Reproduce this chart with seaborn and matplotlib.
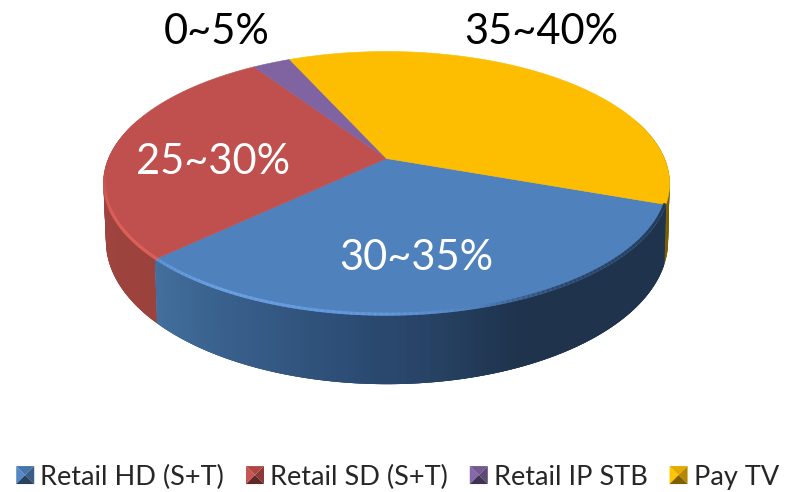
import matplotlib
matplotlib.use("Agg")
import matplotlib.pyplot as plt
from matplotlib.colors import to_rgb
from matplotlib.legend_handler import HandlerBase
from matplotlib.patches import Patch, Polygon
import numpy as np
import seaborn as sns

# the data
categories = ["Retail HD (S+T)", "Retail SD (S+T)", "Retail IP STB", "Pay TV"]
shares = [32.4, 27.8, 2.6, 37.2]
range_labels = ["30~35%", "25~30%", "0~5%", "35~40%"]
colors = ["#4f81bd", "#c0504d", "#8064a2", "#fdbd00"]

sns.set_theme(style="white")
plt.rcParams["font.family"] = ["Lato", "DejaVu Sans"]

START = -19.8  # first slice starts here and goes clockwise


def project(theta, level=0):
    # perspective view of the disc, level 0 is the top face, 1 the bottom face
    u, v = np.cos(theta), np.sin(theta)
    r, a, cy, cx = (278, 127.2, 158.5, 386.5) if level == 0 else (276, 138, 214, 387)
    f = 1 + 0.189 * v
    return cx + r * u / f, cy - a * v / f


def side_color(i, deg):
    # the side gets darker towards the right
    d = deg % 360
    if i == 0:
        return np.interp(d, [223, 265, 292, 340], [0, 1, 2, 2]), ["#44709f", "#2c4d75", "#1f334d"]
    if i == 1:
        return np.interp(d, [122, 225], [0, 1]), ["#a5473f", "#9c423d"]
    if i == 2:
        return 0, ["#5c4776"]
    return 0, ["#7a6000"]


def mix(stops, t):
    rgb = [to_rgb(c) for c in stops]
    lo = int(min(np.floor(t), len(rgb) - 1))
    hi = min(lo + 1, len(rgb) - 1)
    return tuple(np.array(rgb[lo]) * (1 - (t - lo)) + np.array(rgb[hi]) * (t - lo))


fig, ax = plt.subplots(figsize=(7.96, 4.92), dpi=100)
fig.subplots_adjust(0, 0, 1, 1)
ax.set_xlim(0, 796)
ax.set_ylim(492, 0)
ax.axis("off")

spans = np.array(shares) / sum(shares) * 360
ends = START - np.cumsum(spans)
starts = ends + spans

# side wall, far pieces first, each piece overlaps the next so no seams show
pieces = []
for i, (s, e) in enumerate(zip(starts, ends)):
    edges = np.linspace(e, s, int(s - e) + 2)
    for d0, d1 in zip(edges[:-1], edges[1:]):
        pieces.append((i, d0, d1, e, s))
pieces.sort(key=lambda p: -np.sin(np.radians((p[1] + p[2]) / 2)))
for i, d0, d1, e, s in pieces:
    if np.sin(np.radians((d0 + d1) / 2)) > 0.3:
        continue
    th = np.radians(np.linspace(max(d0 - 1, e), min(d1 + 1, s), 8))
    xt, yt = project(th, 0)
    xb, yb = project(th, 1)
    t, stops = side_color(i, (d0 + d1) / 2)
    ax.fill(np.r_[xt, xb[::-1]], np.r_[yt, yb[::-1]], color=mix(stops, t), lw=0, zorder=2)

# top face
for i, (s, e) in enumerate(zip(starts, ends)):
    th = np.radians(np.linspace(e, s, 200))
    x, y = project(th, 0)
    ax.fill(np.r_[386.5, x], np.r_[158.5, y], color=colors[i], lw=0.4, zorder=3)

# bevel along the front rim: light on the left, dark on the right
for deg in np.arange(185, 340, 1.0):
    th = np.radians(deg)
    x, y = project(th, 0)
    dd = deg % 360
    if dd < 223.5:
        c, strength = "#e0605a", 0.9
    elif dd < 285:
        c, strength = "#6fa5ea", np.interp(dd, [223.5, 240, 270, 285], [0.4, 0.8, 0.5, 0])
    else:
        c, strength = "#1f334d", np.interp(dd, [285, 300, 340], [0, 0.6, 0.9])
    strength *= np.interp(dd, [185, 205], [0, 1])
    x2, y2 = project(th + np.radians(1.2), 0)
    ax.plot([x + 1.0 * np.cos(th) * -1, x2 - 1.0 * np.cos(th)], [y - 1.2, y2 - 1.2], color=c,
            alpha=float(strength), lw=2.2, solid_capstyle="butt", zorder=4)

# labels
ax.text(416, 258, range_labels[0], color="white", fontsize=30, ha="center", va="center", zorder=5)
ax.text(213, 162, range_labels[1], color="white", fontsize=30, ha="center", va="center", zorder=5)
ax.text(217, 32, range_labels[2], color="black", fontsize=30, ha="center", va="center", zorder=5)
ax.text(541, 32, range_labels[3], color="black", fontsize=30, ha="center", va="center", zorder=5)


class PyramidHandler(HandlerBase):
    # little bevelled square as in the original legend keys
    def create_artists(self, legend, orig, xd, yd, w, h, fs, trans):
        base = np.array(to_rgb(orig.get_facecolor()[:3]))
        size = 18 / 100 * 72
        x0 = -xd + (w - size) / 2
        y0 = -yd + (h - size) / 2
        x1, y1 = x0 + size, y0 + size
        mx, my = (x0 + x1) / 2, (y0 + y1) / 2
        tris = [
            ([(x0, y0), (x0, y1), (mx, my)], 1.05),
            ([(x0, y1), (x1, y1), (mx, my)], 0.9),
            ([(x1, y1), (x1, y0), (mx, my)], 0.72),
            ([(x1, y0), (x0, y0), (mx, my)], 0.5),
        ]
        return [Polygon(p, closed=True, fc=np.clip(base * k, 0, 1), ec="none", transform=trans)
                for p, k in tris]


handles = [Patch(facecolor=c, label=n) for c, n in zip(colors, categories)]
ax.legend(handles=handles, handler_map={Patch: PyramidHandler()}, loc="center",
          bbox_to_anchor=(397.5 / 796, 1 - 477 / 492), ncol=4, frameon=False, fontsize=19.5,
          handlelength=0.665, handletextpad=0.22, columnspacing=0.81, borderpad=0)

plt.savefig("out.png", dpi=100)
